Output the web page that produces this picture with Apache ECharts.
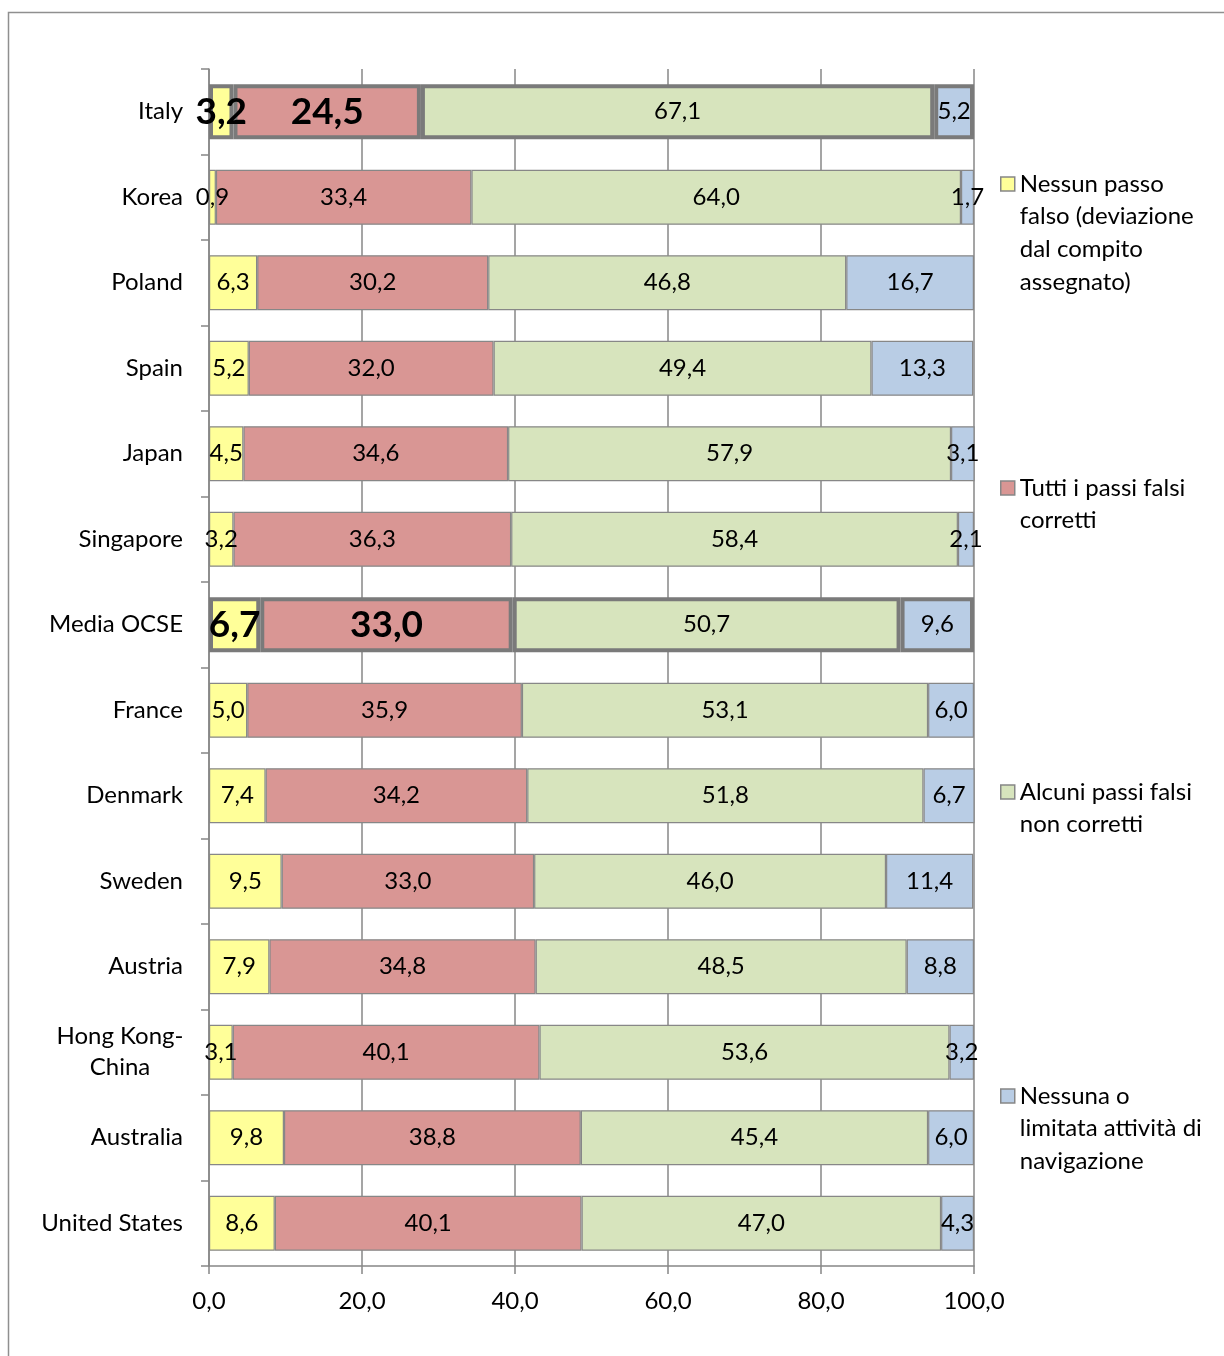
<!DOCTYPE html>
<html>
<head>
<meta charset="utf-8">
<style>
  html, body { margin: 0; padding: 0; background: #fff; }
  #chart { width: 1224px; height: 1356px; }
</style>
<script src="https://cdn.jsdelivr.net/npm/echarts@6/dist/echarts.min.js"></script>
</head>
<body>
<div id="chart"></div>
<script>
// Countries, top to bottom
const countries = ['Italy', 'Korea', 'Poland', 'Spain', 'Japan', 'Singapore', 'Media OCSE',
  'France', 'Denmark', 'Sweden', 'Austria', 'Hong Kong-\nChina', 'Australia', 'United States'];

// Percentages per navigation pattern
const noMissteps      = [3.2, 0.9, 6.3, 5.2, 4.5, 3.2, 6.7, 5.0, 7.4, 9.5, 7.9, 3.1, 9.8, 8.6];
const allCorrected    = [24.5, 33.4, 30.2, 32.0, 34.6, 36.3, 33.0, 35.9, 34.2, 33.0, 34.8, 40.1, 38.8, 40.1];
const someUncorrected = [67.1, 64.0, 46.8, 49.4, 57.9, 58.4, 50.7, 53.1, 51.8, 46.0, 48.5, 53.6, 45.4, 47.0];
const noneOrLimited   = [5.2, 1.7, 16.7, 13.3, 3.1, 2.1, 9.6, 6.0, 6.7, 11.4, 8.8, 3.2, 6.0, 4.3];

const seriesNames = [
  'Nessun passo falso (deviazione dal compito assegnato)',
  'Tutti i passi falsi corretti',
  'Alcuni passi falsi non corretti',
  'Nessuna o limitata attività di navigazione'
];
const legendLines = [
  ['Nessun passo', 'falso (deviazione', 'dal compito', 'assegnato)'],
  ['Tutti i passi falsi', 'corretti'],
  ['Alcuni passi falsi', 'non corretti'],
  ['Nessuna o', 'limitata attività di', 'navigazione']
];

// Rows drawn with a heavier outline and bold labels
const emphasized = ['Italy', 'Media OCSE'];

const colors = ['#FFFF99', '#D99694', '#D7E4BD', '#B9CDE5'];
const FONT = 'Lato, "Open Sans", sans-serif';
const FS = 24;
const GRAY = '#878787';
const DARK_GRAY = '#7a7a7a';

const fmt = v => v.toFixed(1).replace('.', ',');

function buildData(values, bigLabel) {
  return values.map((v, i) => {
    const item = { value: v };
    if (emphasized.includes(countries[i])) {
      item.itemStyle = { borderWidth: 4, borderColor: DARK_GRAY };
      if (bigLabel) item.label = { fontSize: 37, fontWeight: 'bold' };
    }
    return item;
  });
}

const dataSets = [noMissteps, allCorrected, someUncorrected, noneOrLimited];
const series = dataSets.map((vals, k) => ({
  name: seriesNames[k],
  type: 'bar',
  stack: 'total',
  barWidth: 55,
  data: buildData(vals, k < 2),
  itemStyle: { color: colors[k], borderColor: GRAY, borderWidth: 1.2 },
  label: {
    show: true,
    position: 'inside',
    color: '#000',
    fontFamily: FONT,
    fontSize: FS,
    formatter: p => fmt(p.value)
  },
  emphasis: { disabled: true }
}));

// One legend block per series; blank lines above the text keep the
// swatch level with the first line of a wrapped label
const LH = 32.7;
const legendFirstLine = [184, 488, 792, 1096];
const legends = seriesNames.map((name, k) => {
  const n = legendLines[k].length;
  const text = '\n'.repeat(n - 1) + legendLines[k].join('\n');
  return {
    data: [name],
    left: 1000,
    top: legendFirstLine[k] - (2 * n - 1) * LH / 2,
    padding: 0,
    itemWidth: 14,
    itemHeight: 14,
    itemGap: 0,
    icon: 'rect',
    selectedMode: false,
    itemStyle: { borderColor: GRAY, borderWidth: 1.5 },
    formatter: () => text,
    textStyle: {
      fontFamily: FONT,
      fontSize: FS,
      color: '#000',
      lineHeight: LH
    }
  };
});

const chart = echarts.init(document.getElementById('chart'), null, { renderer: 'canvas' });
chart.setOption({
  animation: false,
  backgroundColor: '#fff',
  textStyle: { fontFamily: FONT },
  graphic: [{
    type: 'rect',
    silent: true,
    z: -10,
    shape: { x: 8.5, y: 12.5, width: 1400, height: 1400 },
    style: { fill: 'none', stroke: '#8f8f8f', lineWidth: 1.5 }
  }],
  legend: legends,
  grid: { left: 209, right: 250, top: 69, bottom: 90, containLabel: false },
  xAxis: {
    type: 'value',
    min: 0,
    max: 100,
    interval: 20,
    axisLine: { show: true, lineStyle: { color: GRAY, width: 1.5 } },
    axisTick: { show: true, length: 8, lineStyle: { color: GRAY, width: 1.5 } },
    splitLine: { show: true, lineStyle: { color: GRAY, width: 1.5 } },
    axisLabel: {
      color: '#000', fontFamily: FONT, fontSize: FS, margin: 23,
      formatter: v => fmt(v)
    }
  },
  yAxis: {
    type: 'category',
    inverse: true,
    data: countries,
    axisLine: { show: true, lineStyle: { color: GRAY, width: 1.5 } },
    axisTick: { show: true, length: 8, lineStyle: { color: GRAY, width: 1.5 } },
    splitLine: { show: false },
    axisLabel: {
      color: '#000', fontFamily: FONT, fontSize: FS, margin: 26,
      lineHeight: 31,
      formatter: v => v.includes('\n') ? '{c|' + v + '}' : v,
      rich: {
        c: { width: 126, align: 'center', fontFamily: FONT, fontSize: FS, color: '#000', lineHeight: 31 }
      }
    }
  },
  series: series
});
</script>
</body>
</html>
